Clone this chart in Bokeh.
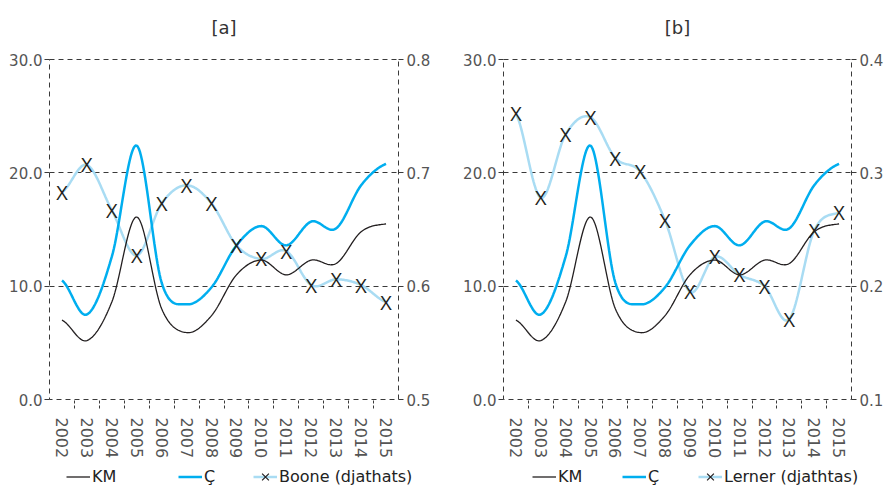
import numpy as np
from bokeh.plotting import figure
from bokeh.models import (Range1d, LinearAxis, FixedTicker, NumeralTickFormatter,
                          Legend, LegendItem)
from bokeh.layouts import row, column
from bokeh.embed import file_html
from bokeh.resources import INLINE
from bokeh.core.properties import value

# ---------------- data ----------------
years = ["2002", "2003", "2004", "2005", "2006", "2007", "2008",
         "2009", "2010", "2011", "2012", "2013", "2014", "2015"]
km = [7.0, 5.2, 8.6, 16.1, 8.0, 5.9, 7.4, 11.0, 12.3, 11.0, 12.3, 12.0, 14.8, 15.5]
c_vals = [10.5, 7.5, 12.6, 22.4, 10.3, 8.4, 9.9, 13.6, 15.3, 13.6, 15.7, 15.1, 18.9, 20.8]
boone = [0.683, 0.707, 0.667, 0.627, 0.673, 0.689, 0.673, 0.636, 0.624, 0.631,
         0.601, 0.606, 0.601, 0.586]
lerner = [0.352, 0.278, 0.334, 0.349, 0.313, 0.301, 0.258, 0.195, 0.226, 0.210,
          0.200, 0.171, 0.249, 0.265]
left_ticks = [0, 10, 20, 30]
right_ticks_a = [0.5, 0.6, 0.7, 0.8]
right_ticks_b = [0.1, 0.2, 0.3, 0.4]
titles = ["[a]", "[b]"]

FONT = "DejaVu Sans"
BLACK = "#231f20"
BLUE = "#00aeef"
LIGHT = "#a9dcf3"
AX = "#3a3a3a"
LBL = "#555555"

xs = [i + 0.5 for i in range(len(years))]
TOP_H = 40
MAIN_H = 421
LEG_H = 29
W = 444


def smooth(x, y, n=24):
    """Cardinal (Catmull-Rom) smoothing of a polyline for display."""
    x = np.asarray(x, float)
    y = np.asarray(y, float)
    m = len(y)
    tg = np.empty(m)
    tg[1:-1] = (y[2:] - y[:-2]) / 2.0
    tg[0] = (y[1] - y[0]) / 2.0
    tg[-1] = (y[-1] - y[-2]) / 2.0
    ox, oy = [], []
    for i in range(m - 1):
        t = np.linspace(0, 1, n, endpoint=(i == m - 2))
        h00 = 2 * t**3 - 3 * t**2 + 1
        h10 = t**3 - 2 * t**2 + t
        h01 = -2 * t**3 + 3 * t**2
        h11 = t**3 - t**2
        oy.extend(h00 * y[i] + h10 * tg[i] + h01 * y[i + 1] + h11 * tg[i + 1])
        ox.extend(x[i] + t * (x[i + 1] - x[i]))
    return ox, oy


def blank(height):
    q = figure(width=W, height=height, output_backend="svg", toolbar_location=None,
               x_range=Range1d(0, W), y_range=Range1d(0, height),
               x_axis_location=None, y_axis_location=None,
               min_border_left=0, min_border_right=0, min_border_top=0,
               min_border_bottom=0)
    q.outline_line_color = None
    q.xgrid.visible = False
    q.ygrid.visible = False
    q.background_fill_color = "white"
    q.border_fill_color = "white"
    return q


def make_title(text, cx):
    q = blank(TOP_H)
    q.text(x=[cx], y=[TOP_H - 27], text=[text], text_align="center",
           text_baseline="middle", text_font=value(FONT), text_font_size="18px",
           text_color="#333333")
    return q


def make_panel(third, rrange, rticks, bl, br):
    p = figure(width=W, height=MAIN_H, output_backend="svg", toolbar_location=None,
               x_range=Range1d(0, len(years)), y_range=Range1d(0, 30),
               min_border_left=bl, min_border_right=br, min_border_top=19,
               min_border_bottom=MAIN_H - 19 - 344)

    p.outline_line_color = AX
    p.outline_line_dash = "5 4"
    p.outline_line_width = 1
    p.background_fill_color = "white"
    p.border_fill_color = "white"

    p.xgrid.visible = False
    p.ygrid.ticker = FixedTicker(ticks=[10, 20])
    p.ygrid.grid_line_color = AX
    p.ygrid.grid_line_dash = "5 4"
    p.ygrid.grid_line_width = 1

    # bottom axis
    xa = p.xaxis[0]
    xa.ticker = FixedTicker(ticks=xs, minor_ticks=list(range(1, len(years))))
    xa.major_label_overrides = {x: y for x, y in zip(xs, years)}
    xa.major_label_orientation = -np.pi / 2
    xa.major_tick_out = 0
    xa.major_tick_in = 0
    xa.minor_tick_out = 9
    xa.minor_tick_in = 0
    xa.minor_tick_line_color = AX
    xa.minor_tick_line_dash = "3 2"
    xa.axis_line_color = None
    xa.major_label_standoff = 9
    xa.major_label_text_font = FONT
    xa.major_label_text_font_size = "16px"
    xa.major_label_text_color = LBL

    # left axis
    ya = p.yaxis[0]
    ya.ticker = FixedTicker(ticks=left_ticks)
    ya.formatter = NumeralTickFormatter(format="0.0")
    ya.major_tick_out = 5
    ya.major_tick_in = 0
    ya.minor_tick_out = 0
    ya.minor_tick_in = 0
    ya.major_tick_line_color = AX
    ya.axis_line_color = None
    ya.major_label_standoff = 2
    ya.major_label_text_font = FONT
    ya.major_label_text_font_size = "15px"
    ya.major_label_text_color = LBL

    # right axis
    p.extra_y_ranges = {"r": Range1d(*rrange)}
    ra = LinearAxis(y_range_name="r", ticker=FixedTicker(ticks=rticks),
                    formatter=NumeralTickFormatter(format="0.0"))
    ra.major_tick_out = 5
    ra.major_tick_in = 0
    ra.minor_tick_out = 0
    ra.minor_tick_in = 0
    ra.major_tick_line_color = AX
    ra.axis_line_color = None
    ra.major_label_standoff = 3
    ra.major_label_text_font = FONT
    ra.major_label_text_font_size = "15px"
    ra.major_label_text_color = LBL
    p.add_layout(ra, "right")

    # series
    sx, sy = smooth(xs, third)
    p.line(sx, sy, line_color=LIGHT, line_width=2.5, y_range_name="r")
    kx, ky = smooth(xs, km)
    p.line(kx, ky, line_color=BLACK, line_width=1.3)
    cx, cy = smooth(xs, c_vals)
    p.line(cx, cy, line_color=BLUE, line_width=2.5)
    p.text(x=xs, y=third, text=value("X"), y_range_name="r",
           text_align="center", text_baseline="middle",
           text_font=value("Open Sans"), text_font_size="20px", text_color=BLACK)
    return p


def make_legend(third_name, pos):
    q = blank(LEG_H)
    # legend-only renderers: their points lie outside the visible range
    off = dict(x=[0, 1], y=[-50, -50])
    r1 = q.line(line_color=BLACK, line_width=1.3, **off)
    r2 = q.line(line_color=BLUE, line_width=2.5, **off)
    r3 = q.line(line_color=LIGHT, line_width=2.5, **off)
    rx = q.scatter(marker="x", size=15, line_color=BLACK, line_width=1.2, **off)
    entries = [("KM", [r1]), ("Ç", [r2]), (third_name, [r3, rx])]
    for (lab, rends), lx in zip(entries, pos):
        lg = Legend(items=[LegendItem(label=lab, renderers=rends)],
                    location=(lx, 0), orientation="horizontal",
                    border_line_color=None, background_fill_alpha=0,
                    padding=0, margin=0, spacing=0, glyph_width=24,
                    glyph_height=27, label_standoff=2,
                    label_text_font=FONT, label_text_font_size="16px",
                    label_text_color="#222222")
        q.add_layout(lg, "center")
    return q


ta = make_title(titles[0], 223.5)
tb = make_title(titles[1], 233)
pa = make_panel(boone, (0.5, 0.8), right_ticks_a, 49, 46)
pb = make_panel(lerner, (0.1, 0.4), right_ticks_b, 59, 37)
la = make_legend("Boone (djathats)", [66, 178, 253])
lb = make_legend("Lerner (djathtas)", [88, 178, 254])

layout = column(row(ta, tb, spacing=0), row(pa, pb, spacing=0),
                row(la, lb, spacing=0), spacing=0)
open("out.html", "w").write(file_html(layout, INLINE))
